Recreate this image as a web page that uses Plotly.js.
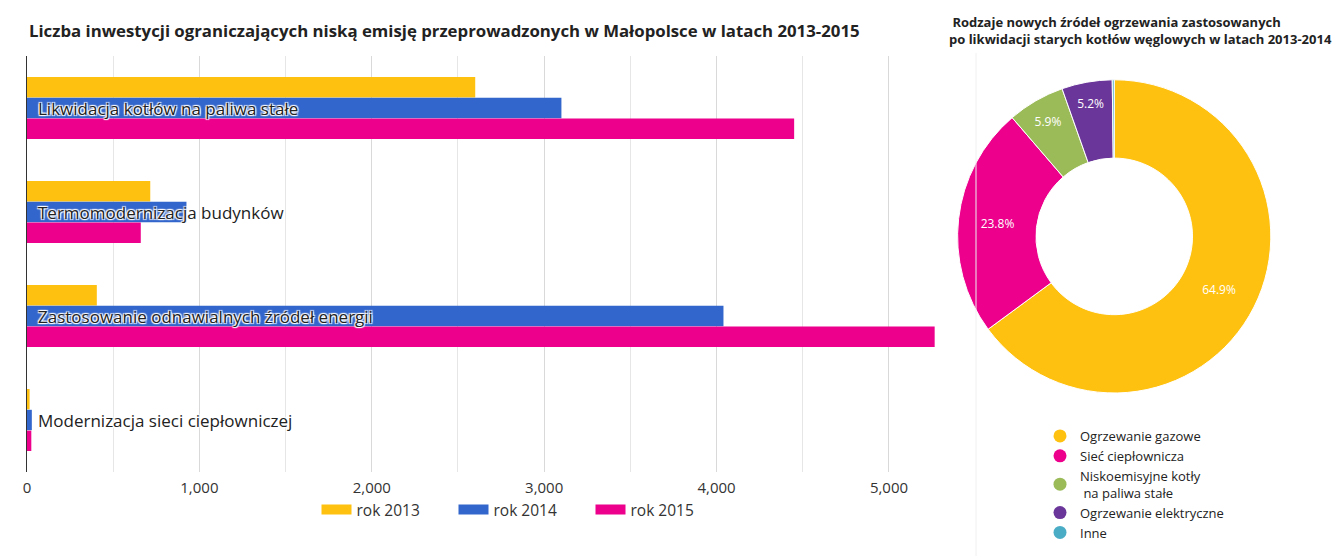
<!DOCTYPE html>
<html><head><meta charset="utf-8">
<script src="https://cdn.plot.ly/plotly-3.0.1.min.js"></script>
<style>body{margin:0;background:#fff}#c{width:1340px;height:556px}</style>
</head><body><div id="c"></div>
<script>
const categories = ["Likwidacja kotłów na paliwa stałe","Termomodernizacja budynków","Zastosowanie odnawialnych źródeł energii","Modernizacja sieci ciepłowniczej"];
const seriesNames = ["rok 2013","rok 2014","rok 2015"];
const v2013 = [2600, 715, 405, 15];
const v2014 = [3100, 925, 4040, 28];
const v2015 = [4450, 660, 5265, 25];
const barColors = ["#FFC110","#3366CC","#EC008C"];

const pieLabels = ["Ogrzewanie gazowe","Sieć ciepłownicza","Niskoemisyjne kotły<br> na paliwa stałe","Ogrzewanie elektryczne","Inne"];
const pieValues = [64.9, 23.8, 5.9, 5.2, 0.2];
const pieColors = ["#FFC110","#EC008C","#9BBB59","#6A3699","#4BACC6"];

const F = "'Open Sans', sans-serif";
const vals = [v2013, v2014, v2015];
const traces = [];
vals.forEach((v, i) => {
  traces.push({type:'bar', orientation:'h', y:categories, x:v, name:seriesNames[i],
    marker:{color:barColors[i]}, showlegend:false, hoverinfo:'x+name'});
});
seriesNames.forEach((n, i) => {
  traces.push({type:'scatter', mode:'lines', x:[null], y:[null], name:n,
    line:{color:barColors[i], width:16}, legend:'legend', showlegend:true});
});
traces.push({type:'pie', labels:pieLabels, values:pieValues, hole:0.5, sort:false,
  direction:'clockwise', rotation:0, marker:{colors:pieColors, line:{color:'#fff', width:1}},
  texttemplate:pieValues.map((v,i)=> i===4 ? '' : '%{percent:.1%}'),
  textposition:'inside', insidetextorientation:'horizontal',
  textfont:{family:F, size:12, color:'#fff'}, showlegend:false,
  domain:{x:[0.7125,0.9505], y:[0.2932,0.8565]}});
pieLabels.forEach((l, i) => {
  traces.push({type:'scatter', mode:'markers', x:[null], y:[null], name:l,
    marker:{color:pieColors[i], size:13, symbol:'circle'}, legend:'legend2', showlegend:true});
});

const shadow = '1px 1px 1px #fff, -1px -1px 1px #fff, 1px -1px 1px #fff, -1px 1px 1px #fff';
const annotations = categories.map(c => ({x:0, y:c, xref:'x', yref:'y', text:c, showarrow:false,
  xanchor:'left', yanchor:'middle', xshift:9, font:{family:F, size:17, color:'#222', shadow:shadow}}));
annotations.push({x:27/1340, y:1-30/556, xref:'paper', yref:'paper', xanchor:'left', yanchor:'middle',
  showarrow:false, text:'<b>Liczba inwestycji ograniczających niską emisję przeprowadzonych w Małopolsce w latach 2013-2015</b>',
  font:{family:F, size:16.8, color:'#222'}});
annotations.push({x:947/1340, y:1-31/556, xref:'paper', yref:'paper', xanchor:'left', yanchor:'middle', align:'left',
  showarrow:false, text:'<b> Rodzaje nowych źródeł ogrzewania zastosowanych<br>po likwidacji starych kotłów węglowych w latach 2013-2014</b>',
  font:{family:F, size:13, color:'#222'}});

const layout = {
  width:1340, height:556, margin:{l:0, r:0, t:0, b:0}, paper_bgcolor:'#fff', plot_bgcolor:'#fff',
  font:{family:F, color:'#333'},
  barmode:'group', bargap:0.4, bargroupgap:0.02,
  xaxis:{domain:[27/1340, 940/1340], range:[0, 5296], dtick:1000, tickformat:',d', showgrid:true,
    gridcolor:'#d9d9d9', gridwidth:1, zeroline:false, ticks:'outside', ticklen:2, tickcolor:'rgba(0,0,0,0)',
    tickfont:{family:F, size:15, color:'#333'},
    minor:{dtick:500, showgrid:true, gridcolor:'#e6e6e6'}, fixedrange:true},
  yaxis:{domain:[1-472/556, 1-56/556], autorange:'reversed', showticklabels:false, ticks:'', showgrid:false,
    showline:true, linecolor:'#333', linewidth:1, zeroline:false, fixedrange:true},
  legend:{orientation:'h', x:522/1340, xanchor:'center', y:1-510/556, yanchor:'middle',
    bgcolor:'rgba(0,0,0,0)', borderwidth:0,
    font:{family:F, size:15.5, color:'#333'}, itemwidth:30, entrywidth:92, entrywidthmode:'pixels',
    traceorder:'normal'},
  legend2:{orientation:'v', x:1040/1340, xanchor:'left', y:1-421/556, yanchor:'top',
    bgcolor:'rgba(0,0,0,0)',
    font:{family:F, size:13, color:'#222'}, traceorder:'normal', tracegroupgap:0},
  shapes:[{type:'line', xref:'paper', yref:'paper', x0:976/1340, x1:976/1340, y0:0, y1:1-53/556,
    line:{color:'#f0f0f0', width:1}}],
  annotations:annotations
};
Plotly.newPlot('c', traces, layout, {displayModeBar:false, staticPlot:true});
</script></body></html>
